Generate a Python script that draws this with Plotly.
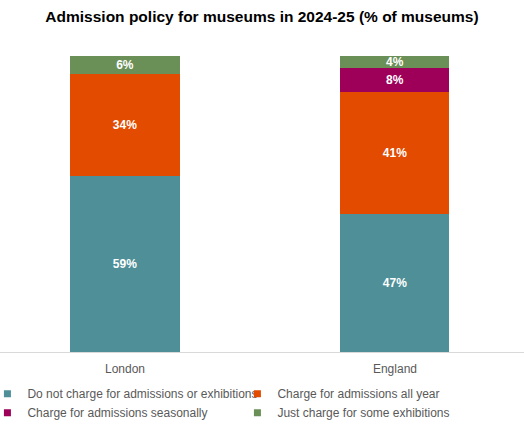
import plotly.graph_objects as go

categories = ["London", "England"]
series_names = [
    "Do not charge for admissions or exhibitions",
    "Charge for admissions all year",
    "Charge for admissions seasonally",
    "Just charge for some exhibitions",
]
no_charge = [59.4, 46.6]
all_year = [34.4, 41.3]
seasonal = [None, 7.9]
some_exhibitions = [6.2, 4.2]
colors = ["#4E8F98", "#E24B00", "#9E0059", "#6A8F57"]

values = [no_charge, all_year, seasonal, some_exhibitions]

fig = go.Figure()
for name, vals, col in zip(series_names, values, colors):
    fig.add_trace(go.Bar(
        x=categories, y=vals, name=name, showlegend=False,
        marker=dict(color=col, line=dict(width=0)),
        texttemplate="<b>%{y:.0f}%</b>", textposition="inside",
        insidetextanchor="middle", textangle=0,
        textfont=dict(color="white", size=12, family="Arial, Liberation Sans"),
        width=0.404,
    ))
# legend entries with small square swatches
for name, col in zip(series_names, colors):
    fig.add_trace(go.Scatter(
        x=[None], y=[None], mode="markers", name=name,
        marker=dict(symbol="square", size=7, color=col),
    ))

fig.update_layout(
    barmode="stack",
    width=524, height=431,
    margin=dict(l=0, r=0, t=56, b=79, autoexpand=False),
    paper_bgcolor="white", plot_bgcolor="white",
    font=dict(family="Arial, Liberation Sans", color="#595959", size=12),
    title=dict(text="<b>Admission policy for museums in 2024-25 (% of museums)</b>",
               x=0.5, xanchor="center", y=1 - 17 / 431, yanchor="middle",
               font=dict(size=15.5, color="black", family="Arial, Liberation Sans")),
    uniformtext=dict(minsize=12, mode="show"),
    xaxis=dict(range=[-0.463, 1.478], showgrid=False, showline=True,
               linecolor="#D9D9D9", linewidth=1, ticks="", ticklabelstandoff=6,
               tickfont=dict(size=12, color="#595959")),
    yaxis=dict(range=[0, 100], visible=False),
    legend=dict(orientation="h", x=-0.024, xanchor="left", y=-0.092, yanchor="top",
                entrywidth=205, entrywidthmode="pixels", traceorder="normal",
                font=dict(size=12, color="#595959"), itemwidth=30),
    showlegend=True,
)

fig.write_html("out.html")
